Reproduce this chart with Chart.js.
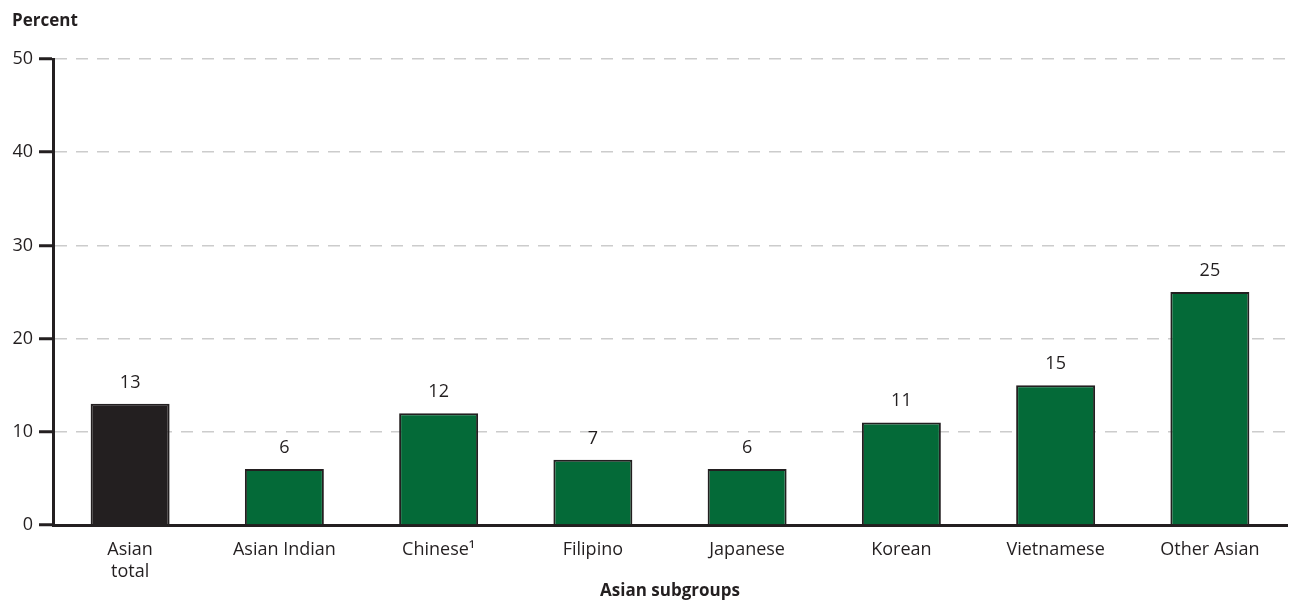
<!DOCTYPE html>
<html>
<head>
<meta charset="utf-8">
<script src="https://cdn.jsdelivr.net/npm/chart.js@4.4.0/dist/chart.umd.min.js"></script>
<style>
  html, body { margin: 0; padding: 0; background: #fff; }
  #wrap { width: 1294px; height: 601px; }
</style>
</head>
<body>
<div id="wrap"><canvas id="chart"></canvas></div>
<script>
const categories = [['Asian', 'total'], 'Asian Indian', 'Chinese\u00b9', 'Filipino', 'Japanese', 'Korean', 'Vietnamese', 'Other Asian'];
const values = [13, 6, 12, 7, 6, 11, 15, 25];
const barColors = ['#231f20', '#046a38', '#046a38', '#046a38', '#046a38', '#046a38', '#046a38', '#046a38'];
const yMin = 0;
const yMax = 50;
const yStep = 10;

const ink = '#231f20';
const fontFamily = "'Open Sans', 'Liberation Sans', sans-serif";

// value labels above each bar + the "Percent" heading
const labelPlugin = {
  id: 'labels',
  afterDatasetsDraw(chart) {
    const ctx = chart.ctx;
    const meta = chart.getDatasetMeta(0);
    ctx.save();
    ctx.fillStyle = ink;
    ctx.font = '18px ' + fontFamily;
    ctx.textAlign = 'center';
    ctx.textBaseline = 'alphabetic';
    meta.data.forEach((bar, i) => {
      ctx.fillText(String(values[i]), bar.x, bar.y - 16);
    });
    ctx.font = 'bold 17px ' + fontFamily;
    ctx.textAlign = 'left';
    ctx.fillText('Percent', 12, 26);
    ctx.restore();
  }
};

new Chart(document.getElementById('chart'), {
  type: 'bar',
  data: {
    labels: categories,
    datasets: [{
      data: values,
      backgroundColor: barColors,
      borderColor: ink,
      borderWidth: 2,
      borderSkipped: 'bottom',
      barPercentage: 1,
      categoryPercentage: 0.512
    }]
  },
  options: {
    responsive: true,
    maintainAspectRatio: false,
    animation: false,
    layout: { padding: { top: 59, right: 7, left: 0, bottom: 0 } },
    plugins: { legend: { display: false }, tooltip: { enabled: false } },
    scales: {
      x: {
        grid: { display: false },
        border: { display: true, color: ink, width: 3 },
        ticks: { color: ink, font: { family: fontFamily, size: 18, lineHeight: 1.22 }, padding: 6, maxRotation: 0, autoSkip: false },
        title: { display: true, text: 'Asian subgroups', color: ink, font: { family: fontFamily, size: 17, weight: 'bold' }, padding: { top: 2, bottom: 0 } },
        afterFit(scale) { scale.height = 76; }
      },
      y: {
        min: yMin,
        max: yMax,
        ticks: { stepSize: yStep, color: ink, font: { family: fontFamily, size: 18 }, padding: 6 },
        grid: {
          color: (c) => (c.tick && c.tick.value === 0 ? 'rgba(0,0,0,0)' : '#cccccc'),
          lineWidth: 1.5,
          drawTicks: true,
          tickLength: 14,
          tickColor: ink,
          tickWidth: 3,
          tickBorderDash: []
        },
        border: { display: true, color: ink, width: 3, dash: [12, 9] },
        afterFit(scale) { scale.width = 53; }
      }
    }
  },
  plugins: [labelPlugin]
});
</script>
</body>
</html>
